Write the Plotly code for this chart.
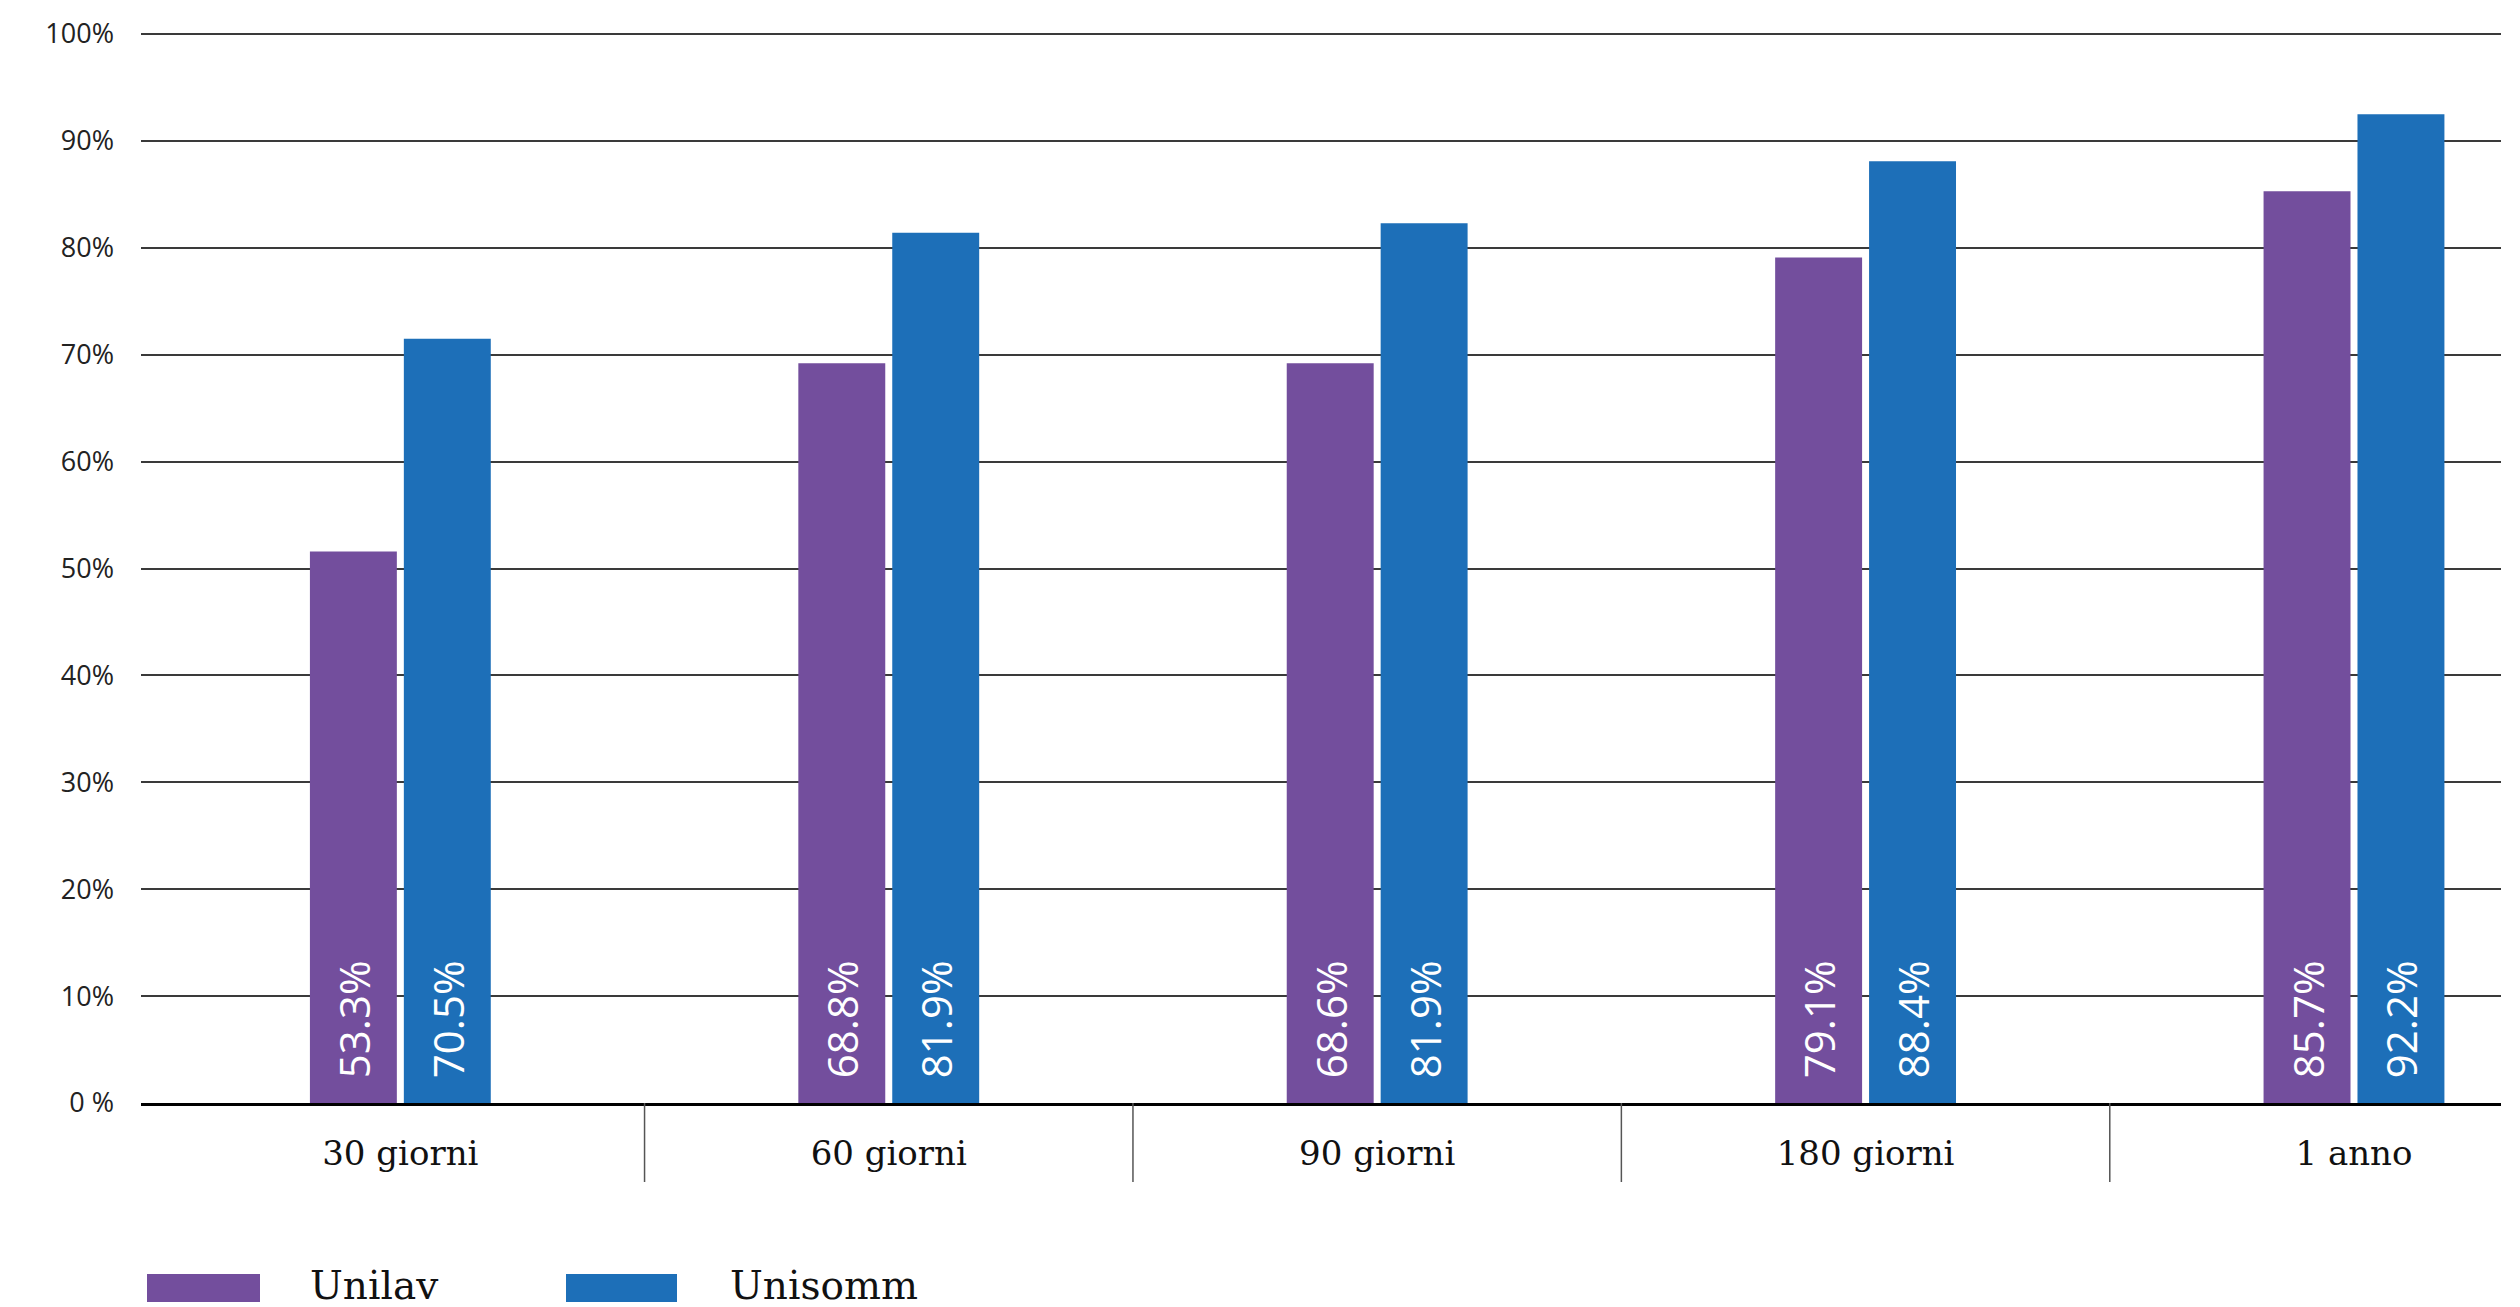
import plotly.graph_objects as go

# ---------------- data ----------------
categories = ["30 giorni", "60 giorni", "90 giorni", "180 giorni", "1 anno"]
series_names = ["Unilav", "Unisomm"]
unilav_values = [51.6, 69.2, 69.2, 79.1, 85.3]      # bar heights as drawn
unisomm_values = [71.5, 81.4, 82.3, 88.1, 92.5]
unilav_labels = ["53.3%", "68.8%", "68.6%", "79.1%", "85.7%"]   # printed labels
unisomm_labels = ["70.5%", "81.9%", "81.9%", "88.4%", "92.2%"]
y_tickvals = [0, 10, 20, 30, 40, 50, 60, 70, 80, 90, 100]
y_ticktext = ["0 %", "10%", "20%", "30%", "40%", "50%", "60%", "70%", "80%", "90%", "100%"]

# ---------------- style / layout constants ----------------
W, H = 2520, 1307
PL, PR, PT, PB = 141, 2501, 23, 1103
COLORS = ["#734E9D", "#1D6FB8"]
BAR_W = 0.178
GAP = 0.0143
PAD = "\u00a0\u00a0"
LABEL_FONT = dict(family="Open Sans, sans-serif", size=42, color="white")
SERIF = "DejaVu Serif, serif"


def paper_x(px):
    return (px - PL) / (PR - PL)


def paper_y(py):
    return (PB - py) / (PB - PT)


fig = go.Figure()
for name, vals, labs, color, off in [
    (series_names[0], unilav_values, unilav_labels, COLORS[0], -(BAR_W + GAP / 2)),
    (series_names[1], unisomm_values, unisomm_labels, COLORS[1], GAP / 2),
]:
    fig.add_trace(go.Bar(
        x=categories, y=vals, name=name,
        marker=dict(color=color, line=dict(width=0)),
        width=BAR_W, offset=off,
        text=[PAD + t for t in labs], textposition="inside",
        insidetextanchor="start", textangle=-90,
        insidetextfont=LABEL_FONT, cliponaxis=False,
        showlegend=False, hoverinfo="skip",
    ))

# category separators (between categories)
shapes = []
for i in range(len(categories) - 1):
    shapes.append(dict(type="line", xref="x", yref="paper",
                       x0=i + 0.5, x1=i + 0.5, y0=0, y1=paper_y(1182),
                       line=dict(color="#555555", width=1.5), layer="above"))

# legend (drawn manually to match large swatches)
legend_items = [(series_names[0], COLORS[0], 147, 260, 308),
                (series_names[1], COLORS[1], 566, 677, 728)]
annotations = []
for name, color, x0, x1, tx in legend_items:
    shapes.append(dict(type="rect", xref="paper", yref="paper",
                       x0=paper_x(x0), x1=paper_x(x1), y0=paper_y(1302), y1=paper_y(1274),
                       fillcolor=color, line=dict(width=0)))
    annotations.append(dict(xref="paper", yref="paper", x=paper_x(tx), y=paper_y(1285),
                            xanchor="left", yanchor="middle", text=name, showarrow=False,
                            font=dict(family=SERIF, size=39, color="#111111")))

fig.update_layout(
    width=W, height=H,
    margin=dict(l=PL, r=W - PR, t=PT, b=H - PB, pad=0),
    paper_bgcolor="white", plot_bgcolor="white",
    barmode="group",
    shapes=shapes, annotations=annotations,
    showlegend=False,
    xaxis=dict(
        type="category", range=[-0.531, 4.301],
        showgrid=False, zeroline=False,
        showline=True, linecolor="#000000", linewidth=3,
        ticks="", ticklabelstandoff=18,
        tickfont=dict(family=SERIF, size=34, color="#111111"),
    ),
    yaxis=dict(
        range=[0, 101.03], tickvals=y_tickvals, ticktext=y_ticktext,
        showgrid=True, gridcolor="#3a3a3a", gridwidth=1.5,
        zeroline=False, showline=False, ticks="",
        ticklabelstandoff=26,
        tickfont=dict(family="Open Sans, sans-serif", size=27, color="#222222"),
    ),
    font=dict(family="Open Sans, sans-serif"),
)

fig.write_html(
    "out.html",
    config={"displayModeBar": False},
    post_script="document.body.style.margin='0';document.body.style.overflow='hidden';",
)
